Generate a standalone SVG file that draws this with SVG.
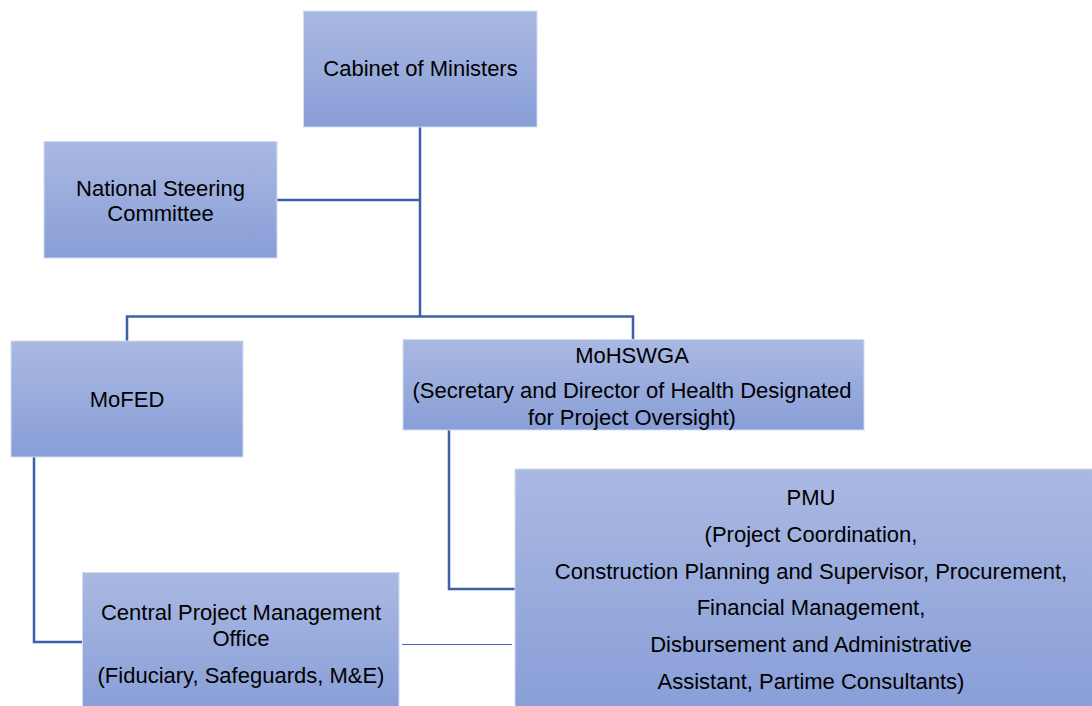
<svg xmlns="http://www.w3.org/2000/svg" width="1092" height="706" viewBox="0 0 1092 706">
  <defs>
    <linearGradient id="boxFill" x1="0" y1="0" x2="0" y2="1">
      <stop offset="0" stop-color="#AAB9E2"/>
      <stop offset="1" stop-color="#889ED7"/>
    </linearGradient>
    <style>
      .box { fill: url(#boxFill); stroke: #D3DBF0; stroke-width: 1; }
      .lbl { font-family: "Liberation Sans", Arial, sans-serif; font-size: 22px; fill: #000; text-anchor: middle; }
      .link { fill: none; stroke: #3F60A8; stroke-width: 2.5; }
      .thin { fill: none; stroke: #4468B2; stroke-width: 1; }
    </style>
  </defs>
  <rect width="1092" height="706" fill="#FFFFFF"/>

  <!-- reporting lines -->
  <g id="connectors">
    <path class="link" d="M420 127 V316.5"/>
    <path class="link" d="M277 200 H420"/>
    <path class="link" d="M127 341 V316.5 H633 V340"/>
    <path class="link" d="M34 457 V642 H83"/>
    <path class="link" d="M449 430 V589 H515"/>
    <path class="thin" d="M402 644.5 H512"/>
  </g>

  <g id="cabinet">
    <rect class="box" x="303.5" y="11" width="233.5" height="116"/>
    <text class="lbl" x="420.5" y="76">Cabinet of Ministers</text>
  </g>

  <g id="steering-committee">
    <rect class="box" x="44" y="141.5" width="233" height="116.5"/>
    <text class="lbl" x="160.5" y="195.5">National Steering</text>
    <text class="lbl" x="160.5" y="221">Committee</text>
  </g>

  <g id="mofed">
    <rect class="box" x="11" y="341" width="232" height="116"/>
    <text class="lbl" x="127" y="406.5">MoFED</text>
  </g>

  <g id="mohswga">
    <rect class="box" x="403" y="339.5" width="461" height="90.5"/>
    <text class="lbl" x="632" y="362.5">MoHSWGA</text>
    <text class="lbl" x="632" y="397.5">(Secretary and Director of Health Designated</text>
    <text class="lbl" x="632" y="424.5">for Project Oversight)</text>
  </g>

  <g id="cpmo">
    <rect class="box" x="82.5" y="572.5" width="316.5" height="140"/>
    <text class="lbl" x="241" y="619.5">Central Project Management</text>
    <text class="lbl" x="241" y="645.5">Office</text>
    <text class="lbl" x="241" y="682.5">(Fiduciary, Safeguards, M&amp;E)</text>
  </g>

  <g id="pmu">
    <rect class="box" x="515" y="469" width="585" height="245"/>
    <text class="lbl" x="811" y="504.5">PMU</text>
    <text class="lbl" x="811" y="541.5">(Project Coordination,</text>
    <text class="lbl" x="811" y="578.5">Construction Planning and Supervisor, Procurement,</text>
    <text class="lbl" x="811" y="614.5">Financial Management,</text>
    <text class="lbl" x="811" y="651.5">Disbursement and Administrative</text>
    <text class="lbl" x="811" y="688.5">Assistant, Partime Consultants)</text>
  </g>
</svg>
